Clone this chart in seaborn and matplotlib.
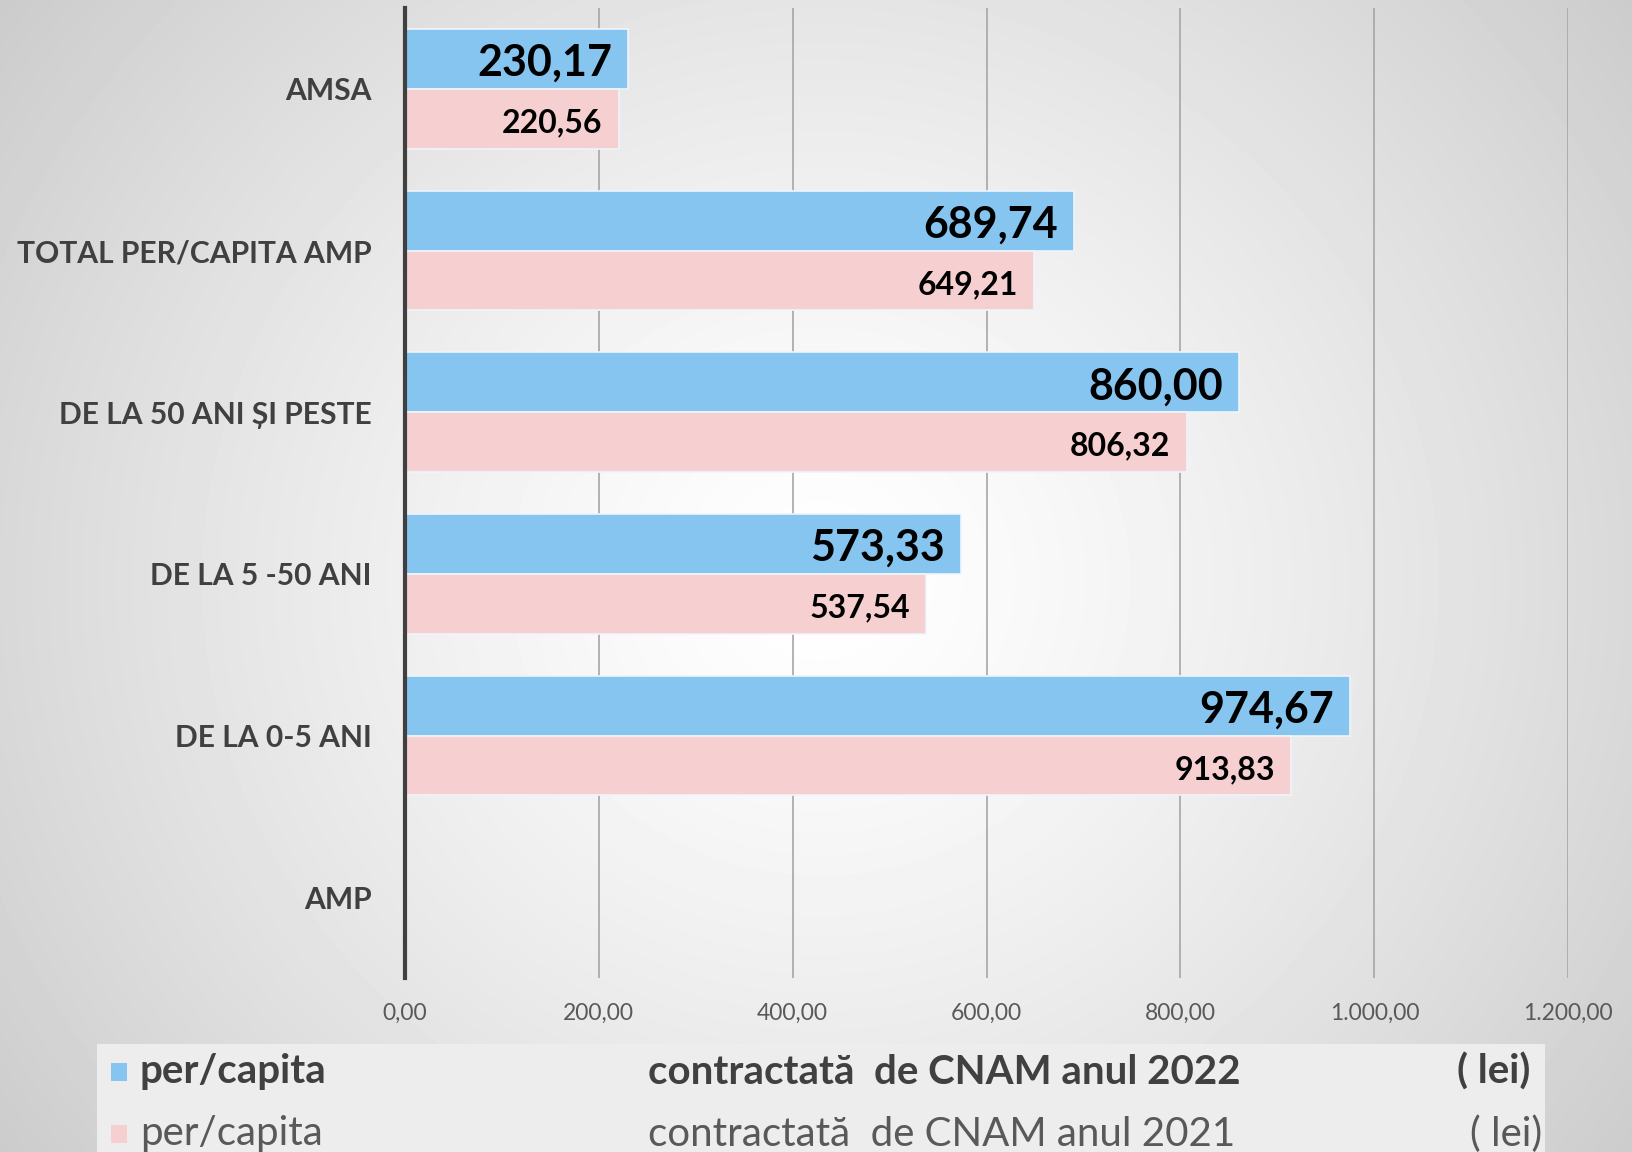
import numpy as np
import pandas as pd
import seaborn as sns
import matplotlib.pyplot as plt
from matplotlib.patches import Rectangle
from matplotlib.ticker import FuncFormatter
from matplotlib.transforms import offset_copy

# Data
categories = ['AMSA', 'TOTAL PER/CAPITA AMP', 'DE LA 50 ANI ȘI PESTE',
              'DE LA 5 -50 ANI', 'DE LA 0-5 ANI', 'AMP']
values_2022 = [230.17, 689.74, 860.00, 573.33, 974.67, np.nan]
values_2021 = [220.56, 649.21, 806.32, 537.54, 913.83, np.nan]
series = ['2022', '2021']
x_ticks = [0, 200, 400, 600, 800, 1000, 1200]
legend_parts = [
    ['per/capita', 'contractată  de CNAM anul 2022', '( lei)'],
    ['per/capita', 'contractată  de CNAM anul 2021', '( lei)'],
]
colors = {'2022': '#85C5F0', '2021': '#F6D0D0'}

df = pd.DataFrame({
    'cat': categories * 2,
    'serie': ['2022'] * len(categories) + ['2021'] * len(categories),
    'val': values_2022 + values_2021,
})

sns.set_style('white')
plt.rcParams['font.family'] = ['Lato', 'DejaVu Sans']

fig = plt.figure(figsize=(16.32, 11.52), dpi=100)

# radial gradient background
bg = fig.add_axes([0, 0, 1, 1], zorder=-2)
yy, xx = np.mgrid[0:1152, 0:1632]
d = np.sqrt(((xx - 820) / 1.05) ** 2 + (yy - 580) ** 2) / 1000
shade = np.clip(1 - 0.21 * d ** 1.3, 0.75, 1)
bg.imshow(shade, cmap='gray', vmin=0, vmax=1, aspect='auto')
bg.axis('off')

ax = fig.add_axes([0.248, 0.151, 0.713, 0.842])
ax.patch.set_alpha(0)

sns.barplot(data=df, y='cat', x='val', hue='serie', order=categories,
            hue_order=series, palette=colors, orient='h', width=0.74,
            saturation=1, edgecolor='#eef5fb', linewidth=1.2, ax=ax, legend=False)

# value labels inside the bar ends
for cont, vals, size in zip(ax.containers, [values_2022, values_2021], [31, 23]):
    for bar, v in zip(cont, vals):
        if bar is None or np.isnan(v):
            continue
        tr = offset_copy(ax.transData, fig=fig, x=-16, y=-4, units='dots')
        ax.text(bar.get_x() + bar.get_width(), bar.get_y() + bar.get_height() / 2,
                f'{v:.2f}'.replace('.', ','), transform=tr, ha='right', va='center',
                fontsize=size, fontweight='bold', color='black')

ax.set_xlim(0, 1200)
ax.set_xticks(x_ticks)
ax.xaxis.set_major_formatter(FuncFormatter(
    lambda v, p: f'{v:,.2f}'.replace(',', 'X').replace('.', ',').replace('X', '.')))
ax.grid(axis='x', color='#a6a6a6', linewidth=1.2)
ax.set_axisbelow(True)
ax.set_xlabel('')
ax.set_ylabel('')
for s in ['top', 'right', 'bottom']:
    ax.spines[s].set_visible(False)
ax.spines['left'].set_color('#404040')
ax.spines['left'].set_linewidth(3)
ax.tick_params(axis='x', length=0, pad=18, labelsize=16.5, labelcolor='#595959')
ax.tick_params(axis='y', length=0, pad=24, labelsize=21.6, labelcolor='#404040')
for t in ax.get_yticklabels():
    t.set_fontweight('bold')

# legend strip at the bottom
fig.patches.append(Rectangle((97 / 1632, 0), (1545 - 97) / 1632, 108 / 1152,
                             transform=fig.transFigure, facecolor='#ededed',
                             edgecolor='none', zorder=0))
row_y = [1 - 1072 / 1152, 1 - 1134 / 1152]
for parts, yv, s, w, c in zip(legend_parts, row_y, series,
                              ['bold', 'normal'], ['#404040', '#595959']):
    fig.patches.append(Rectangle((111 / 1632, yv - 9 / 1152), 16 / 1632, 18 / 1152,
                                 transform=fig.transFigure, facecolor=colors[s],
                                 edgecolor='none', zorder=1))
    fig.text(140 / 1632, yv, parts[0], fontsize=29, fontweight=w, color=c, va='center')
    fig.text(648 / 1632, yv, parts[1], fontsize=29, fontweight=w, color=c, va='center')
    fig.text((1530 if w == 'bold' else 1542) / 1632, yv, parts[2], fontsize=29,
             fontweight=w, color=c, va='center', ha='right')

fig.savefig('out.png', dpi=100)
